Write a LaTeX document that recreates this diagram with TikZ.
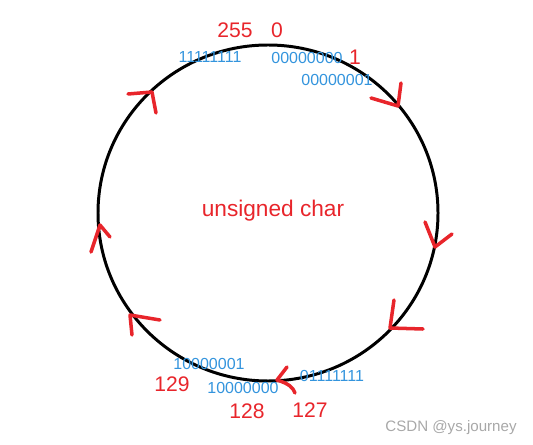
\documentclass[tikz,border=0pt]{standalone}
\usepackage{fontspec}
\setmainfont{Liberation Sans}
\usepackage{tikz}
\usetikzlibrary{positioning}
\usepackage{xcolor}
\definecolor{wrap}{HTML}{E8252B}
\definecolor{bits}{HTML}{3394DD}
\definecolor{mark}{HTML}{A8A8A8}

\begin{document}
\begin{tikzpicture}[
  x=0.02cm, y=-0.02cm,
  num/.style={text=wrap, inner sep=0pt, font=\fontsize{12}{14}\selectfont},
  bin/.style={text=bits, inner sep=0pt, font=\fontsize{9.1}{11}\selectfont},
  tick/.style={draw=wrap, line width=2pt, line cap=round, line join=round}
]
  \useasboundingbox (0,0) rectangle (533,445);

  % the ring
  \draw[line width=1.7pt] (268,213) ellipse [x radius=170, y radius=168];
  \node[num, font=\fontsize{12.9}{15}\selectfont] (title) at (273,211) {unsigned char};

  % top values
  \node[num] (n255) at (235,30) {255};
  \node[num] (n0) at (277,30) {0};
  \node[num] (n1) at (355,57) {1};
  \node[bin] (b255) at (210,57) {11111111};
  \node[bin] (b0) at (307,58) {00000000};
  \node[bin] (b1) at (337,80) {00000001};

  % bottom values
  \node[bin] (b129) at (209,364) {10000001};
  \node[num] (n129) at (172,384) {129};
  \node[bin] (b128) at (243,388) {10000000};
  \node[num] (n128) at (247,411) {128};
  \node[bin] (b127) at (332,376) {01111111};
  \node[num] (n127) at (310,410) {127};

  % direction marks, clockwise
  \draw[tick] (371,98) -- (398,106) -- (401,83);
  \draw[tick] (425,222) -- (435,247) -- (452,234);
  \draw[tick] (394,300) -- (390,328) -- (423,329);
  \draw[tick] (287,367) -- (277,380) .. controls (290,384) and (293,388) .. (295,393);
  \draw[tick] (132,335) -- (130,315) -- (160,320);
  \draw[tick] (91,252) -- (100,225) -- (110,237);
  \draw[tick] (128,94) -- (152,92) -- (156,113);

  \node[text=mark, inner sep=0pt, font=\fontsize{8.6}{10}\selectfont] (src) at (451,428) {CSDN @ys.journey};
\end{tikzpicture}
\end{document}
